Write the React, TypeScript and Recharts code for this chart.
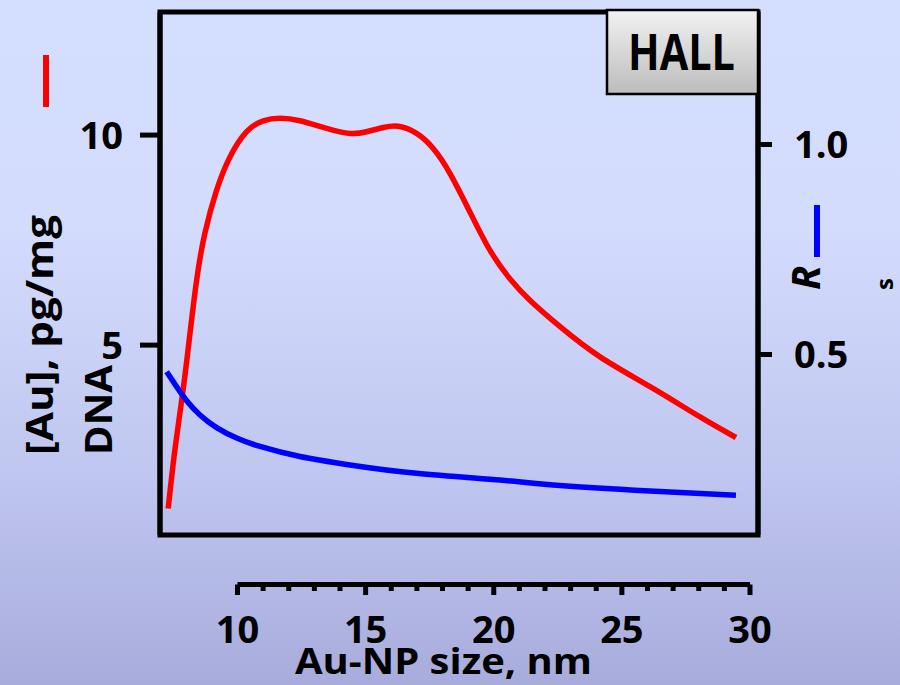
import React from "react";
import { LineChart, Line, XAxis, YAxis, ReferenceArea } from "recharts";

// red curve: [Au] in DNA, pg/mg (left axis)
const auSize = [7.3, 7.56, 7.88, 8.15, 8.41, 8.73, 9.19, 9.71, 10.36, 11.01, 11.66, 12.44, 13.48, 14.39, 15.04, 15.69, 16.28, 16.99, 17.64, 18.29, 19.07, 19.85, 20.63, 21.41, 22.59, 24.15, 26.1, 28.05, 29.45];
const auConc = [1.11, 2.5, 3.93, 5.28, 6.55, 7.66, 8.69, 9.48, 10.08, 10.34, 10.4, 10.34, 10.16, 10.04, 10.08, 10.18, 10.21, 10.04, 9.68, 9.09, 8.17, 7.26, 6.58, 6.07, 5.44, 4.72, 4.01, 3.29, 2.8];

// blue curve: Rs (right axis)
const rsSize = [7.24, 7.63, 8.02, 8.54, 9.19, 9.97, 10.88, 12.44, 14.39, 16.99, 20.24, 22.2, 26.1, 29.45];
const rsValue = [0.459, 0.423, 0.39, 0.356, 0.326, 0.301, 0.281, 0.257, 0.237, 0.217, 0.201, 0.19, 0.175, 0.165];

const leftTicks = [5, 10];
const rightTicks = [0.5, 1.0];
const sizeTicks = [10, 11, 12, 13, 14, 15, 16, 17, 18, 19, 20, 21, 22, 23, 24, 25, 26, 27, 28, 29, 30];

const xDomain = [6.98, 30.31];
const leftDomain = [0.48, 12.93];
const rightDomain = [0.0702, 1.3155];

const auData = auSize.map((x, i) => ({ x, y: auConc[i] }));
const rsData = rsSize.map((x, i) => ({ x, y: rsValue[i] }));
const axisData = [{ x: 10 }, { x: 30 }];

const font = "'Open Sans', sans-serif";
const tickStyle = { fill: "#000", fontSize: 38, fontWeight: 700, fontFamily: font };
const black = { stroke: "#000", strokeWidth: 5 };

function SizeTick(props: any) {
  const { x, y, payload } = props;
  const major = payload.value % 5 === 0;
  return (
    <g>
      <line x1={x} x2={x} y1={y} y2={y + (major ? 10.5 : 6.5)} stroke="#000" strokeWidth={5} />
      {major && (
        <text x={x} y={y + 58} textAnchor="middle" {...tickStyle}>
          {payload.value}
        </text>
      )}
    </g>
  );
}

export default function App() {
  return (
    <div
      style={{
        position: "relative",
        width: 900,
        height: 685,
        overflow: "hidden",
        background: "linear-gradient(to bottom, #d4defe 0%, #d3dcfd 33%, #c0c7f0 68%, #a8acdc 100%)",
      }}
    >
      <style>{"body{margin:0}"}</style>

      <LineChart width={900} height={685} margin={{ top: 12, right: 0, bottom: 150, left: 0 }}>
        <XAxis type="number" dataKey="x" domain={xDomain} allowDataOverflow hide />
        <YAxis
          yAxisId="left"
          domain={leftDomain}
          allowDataOverflow
          ticks={leftTicks}
          width={160}
          tickSize={20}
          tickMargin={17}
          axisLine={black}
          tickLine={black}
          tick={tickStyle}
        />
        <YAxis
          yAxisId="right"
          orientation="right"
          domain={rightDomain}
          allowDataOverflow
          ticks={rightTicks}
          tickFormatter={(v: number) => v.toFixed(1)}
          width={142}
          tickSize={14}
          tickMargin={22}
          axisLine={black}
          tickLine={black}
          tick={tickStyle}
        />
        <ReferenceArea
          yAxisId="left"
          x1={xDomain[0]}
          x2={xDomain[1]}
          y1={leftDomain[0]}
          y2={leftDomain[1]}
          fill="none"
          fillOpacity={0}
          stroke="#000"
          strokeWidth={5}
          ifOverflow="visible"
        />
        <Line
          yAxisId="left"
          data={auData}
          dataKey="y"
          type="natural"
          stroke="#ff0000"
          strokeWidth={5.5}
          dot={false}
          isAnimationActive={false}
        />
        <Line
          yAxisId="right"
          data={rsData}
          dataKey="y"
          type="natural"
          stroke="#0000ff"
          strokeWidth={5.5}
          dot={false}
          isAnimationActive={false}
        />
      </LineChart>

      {/* separate size axis below the frame */}
      <div style={{ position: "absolute", left: 0, top: 0 }}>
        <LineChart width={900} height={685} data={axisData} margin={{ top: 500, right: 150, bottom: 0, left: 237.5 }}>
          <XAxis
            type="number"
            dataKey="x"
            domain={[10, 30]}
            ticks={sizeTicks}
            interval={0}
            height={100.5}
            tickSize={0}
            tickMargin={0}
            tickLine={false}
            axisLine={black}
            tick={<SizeTick />}
          />
          <YAxis hide />
        </LineChart>
      </div>

      <svg width={900} height={685} style={{ position: "absolute", left: 0, top: 0, pointerEvents: "none" }}>
        <defs>
          <linearGradient id="hallGrad" x1="0" y1="0" x2="0" y2="1">
            <stop offset="0%" stopColor="#f2f2f2" />
            <stop offset="100%" stopColor="#bcbcbc" />
          </linearGradient>
        </defs>

        {/* left axis title */}
        <text
          transform="translate(53,455) rotate(-90)"
          fontFamily={font}
          fontWeight={700}
          fontSize={38}
          textLength={240}
          lengthAdjust="spacingAndGlyphs"
        >
          [Au], pg/mg
        </text>
        <text
          transform="translate(112,455) rotate(-90)"
          fontFamily={font}
          fontWeight={700}
          fontSize={38}
          textLength={90}
          lengthAdjust="spacingAndGlyphs"
        >
          DNA
        </text>
        <line x1={46} x2={46} y1={55} y2={107} stroke="#ff0000" strokeWidth={6} />

        {/* right axis title */}
        <text transform="translate(820,290) rotate(-90)" fontFamily={font} fontWeight={700} fontStyle="italic" fontSize={40}>
          R
        </text>
        <text transform="translate(893,290) rotate(-90)" fontFamily={font} fontWeight={700} fontSize={24}>
          s
        </text>
        <line x1={817} x2={817} y1={205} y2={257} stroke="#0000ff" strokeWidth={6} />

        {/* HALL box */}
        <rect x={607} y={10} width={151} height={84} fill="url(#hallGrad)" stroke="#000" strokeWidth={2.5} />
        <text
          x={628}
          y={70}
          fontFamily={font}
          fontWeight={700}
          fontSize={51}
          textLength={107}
          lengthAdjust="spacingAndGlyphs"
        >
          HALL
        </text>

        {/* x axis title */}
        <text
          x={295}
          y={674}
          fontFamily={font}
          fontWeight={700}
          fontSize={36}
          textLength={297}
          lengthAdjust="spacingAndGlyphs"
        >
          Au-NP size, nm
        </text>
      </svg>
    </div>
  );
}
